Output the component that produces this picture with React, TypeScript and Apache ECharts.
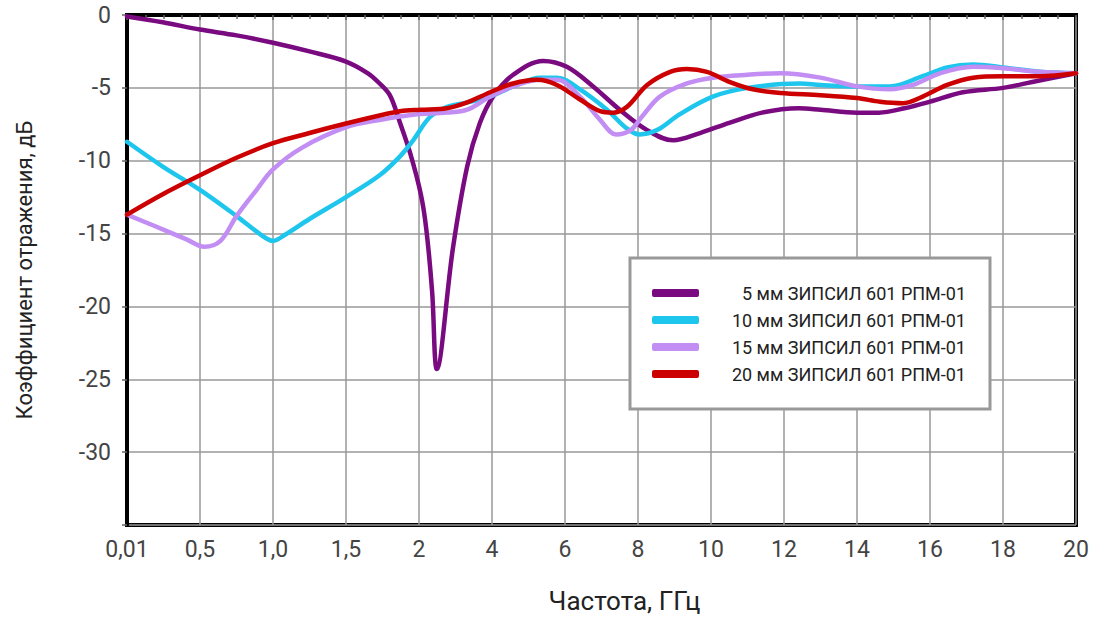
import React, { useEffect, useRef } from "react";
import * as echarts from "echarts";

const X_TICK_LABELS = ["0,01", "0,5", "1,0", "1,5", "2", "4", "6", "8", "10", "12", "14", "16", "18", "20"];
const Y_TICKS = [0, -5, -10, -15, -20, -25, -30];

const SERIES_NAMES = [
  "5 мм ЗИПСИЛ 601 РПМ-01",
  "10 мм ЗИПСИЛ 601 РПМ-01",
  "15 мм ЗИПСИЛ 601 РПМ-01",
  "20 мм ЗИПСИЛ 601 РПМ-01",
];
const SERIES_COLORS = ["#7a0a80", "#1ec6ee", "#c28ef4", "#cc0000"];

// [frequency GHz, dB]
const S5: [number, number][] = [
  [0.01, -0.1], [0.25, -0.5], [0.5, -1.0], [0.75, -1.4], [1.0, -1.9], [1.25, -2.5], [1.5, -3.2],
  [1.65, -4.0], [1.72, -4.6], [1.8, -5.5], [1.87, -7.4], [1.94, -9.5], [2.05, -12.3],
  [2.2, -14.7], [2.36, -19.0], [2.49, -24.3], [2.93, -16.0], [3.32, -10.4],
  [3.67, -7.4], [4.03, -5.6], [4.58, -4.1], [5.4, -3.15], [6.05, -3.55], [6.77, -4.9],
  [7.5, -6.5], [8.25, -7.9], [8.96, -8.6], [9.7, -8.1], [10.5, -7.4], [11.4, -6.7],
  [12.4, -6.4], [13.0, -6.5], [14.0, -6.7], [14.6, -6.7], [15.3, -6.4], [16.0, -5.95],
  [16.9, -5.3], [18.0, -5.0], [18.8, -4.6], [20.0, -4.0],
];
const S10: [number, number][] = [
  [0.01, -8.7], [0.25, -10.4], [0.5, -12.0], [0.75, -13.8], [0.92, -15.1], [1.0, -15.5],
  [1.08, -15.1], [1.25, -14.0], [1.5, -12.5], [1.73, -11.0], [1.87, -9.7], [1.96, -8.6],
  [2.3, -7.0], [2.77, -6.3], [3.32, -6.0], [3.95, -5.6], [4.58, -4.9], [5.32, -4.3],
  [5.78, -4.3], [6.41, -5.1], [7.15, -6.5], [7.7, -7.8], [8.05, -8.2], [8.52, -7.9],
  [9.15, -6.8], [10.05, -5.6], [11.0, -5.0], [12.44, -4.7], [13.0, -4.8], [14.0, -4.9],
  [14.9, -4.9], [15.8, -4.2], [16.47, -3.6], [17.18, -3.4], [18.0, -3.6], [19.0, -3.9],
  [20.0, -4.0],
];
const S15: [number, number][] = [
  [0.01, -13.7], [0.2, -14.5], [0.41, -15.4], [0.53, -15.9], [0.64, -15.5], [0.75, -13.8],
  [0.88, -12.1], [1.0, -10.6], [1.2, -9.1], [1.5, -7.7], [1.73, -7.2], [1.96, -6.85],
  [2.77, -6.7], [3.32, -6.5], [3.95, -5.6], [4.58, -4.9], [5.32, -4.45], [5.78, -4.45],
  [6.41, -5.6], [6.96, -7.2], [7.4, -8.2], [7.8, -7.9], [8.1, -7.0], [8.6, -5.6],
  [9.34, -4.7], [10.05, -4.3], [11.0, -4.1], [11.9, -4.0], [13.0, -4.3], [14.0, -4.9],
  [14.9, -5.1], [15.53, -4.8], [16.27, -4.0], [17.18, -3.55], [18.0, -3.65], [19.0, -3.9],
  [20.0, -4.0],
];
const S20: [number, number][] = [
  [0.01, -13.7], [0.25, -12.3], [0.5, -11.0], [0.75, -9.8], [1.0, -8.8], [1.25, -8.1],
  [1.5, -7.45], [1.73, -6.9], [1.87, -6.6], [2.03, -6.5], [2.77, -6.4], [3.32, -6.0],
  [3.95, -5.3], [4.58, -4.7], [5.23, -4.45], [5.78, -4.8], [6.41, -5.8], [6.96, -6.6],
  [7.32, -6.7], [7.7, -6.3], [8.25, -4.8], [8.88, -3.9], [9.34, -3.7], [9.89, -3.9],
  [10.52, -4.6], [11.15, -5.1], [11.9, -5.35], [13.0, -5.5], [14.0, -5.7], [14.63, -5.95],
  [15.26, -6.05], [15.8, -5.6], [16.47, -4.8], [17.18, -4.3], [18.0, -4.2], [19.0, -4.2],
  [20.0, -4.0],
];
const ALL_SERIES = [S5, S10, S15, S20];

// Piecewise frequency scale used by the original axis
function freqToPos(f: number): number {
  if (f <= 0.5) return (f - 0.01) / 0.49;
  if (f <= 2) return 1 + (f - 0.5) / 0.5;
  return 4 + (f - 2) / 2;
}

const FONT = "Roboto, 'Noto Sans', sans-serif";

export default function App() {
  const ref = useRef<HTMLDivElement>(null);
  useEffect(() => {
    if (!ref.current) return;
    const chart = echarts.init(ref.current, null, { renderer: "svg" });
    chart.setOption({
      animation: false,
      backgroundColor: "#ffffff",
      textStyle: { fontFamily: FONT },
      grid: {
        left: 127,
        right: 24,
        top: 15,
        bottom: 96,
        show: true,
        borderColor: "#000",
        borderWidth: 4,
        backgroundColor: "transparent",
      },
      legend: {
        show: true,
        orient: "vertical",
        left: 630,
        top: 258,
        width: 362,
        backgroundColor: "#fff",
        borderColor: "#999",
        borderWidth: 3,
        padding: [26, 24, 26, 22],
        itemGap: 9,
        itemWidth: 47,
        itemHeight: 8,
        icon: "roundRect",
        data: SERIES_NAMES,
        formatter: (name: string) => `{a|${name}}`,
        textStyle: {
          fontFamily: FONT,
          fontSize: 18,
          color: "#222",
          rich: {
            a: { width: 262, align: "right", fontSize: 18, color: "#222", fontFamily: FONT },
          },
        },
      },
      xAxis: {
        type: "value",
        min: 0,
        max: X_TICK_LABELS.length - 1,
        interval: 1,
        name: "Частота, ГГц",
        nameLocation: "middle",
        nameGap: 63,
        nameTextStyle: { fontSize: 26, color: "#222", fontFamily: FONT, padding: [0, 0, 0, 46] },
        axisLine: { show: true, lineStyle: { color: "#000", width: 4 } },
        axisTick: { show: true, inside: false, length: 5, lineStyle: { color: "#666", width: 1.5 } },
        minorTick: { show: true, splitNumber: 4, length: 4, lineStyle: { color: "#666", width: 1.5 } },
        splitLine: { show: true, lineStyle: { color: "#999", width: 1.5 } },
        axisLabel: {
          fontSize: 23,
          color: "#444",
          margin: 13,
          fontFamily: FONT,
          formatter: (v: number) => X_TICK_LABELS[Math.round(v)] ?? "",
        },
      },
      yAxis: {
        type: "value",
        min: -35,
        max: 0,
        interval: 5,
        name: "Коэффициент отражения, дБ",
        nameLocation: "middle",
        nameGap: 92,
        nameTextStyle: { fontSize: 22, color: "#222", fontFamily: FONT },
        axisLine: { show: true, lineStyle: { color: "#000", width: 4 } },
        axisTick: { show: true, inside: false, length: 5, lineStyle: { color: "#666", width: 1.5 } },
        splitLine: { show: true, lineStyle: { color: "#999", width: 1.5 } },
        axisLabel: {
          fontSize: 23,
          color: "#444",
          margin: 16,
          fontFamily: FONT,
          formatter: (v: number) => (Y_TICKS.includes(v) ? String(v) : ""),
        },
      },
      series: ALL_SERIES.map((s, i) => ({
        name: SERIES_NAMES[i],
        type: "line",
        smooth: 0.35,
        symbol: "none",
        color: SERIES_COLORS[i],
        lineStyle: { width: 4.5, color: SERIES_COLORS[i], cap: "round", join: "round" },
        data: s.map(([f, db]) => [freqToPos(f), db]),
      })),
    });
    return () => chart.dispose();
  }, []);
  return (
    <div
      ref={ref}
      style={{ position: "fixed", left: 0, top: 0, width: 1100, height: 621, background: "#fff" }}
    />
  );
}
